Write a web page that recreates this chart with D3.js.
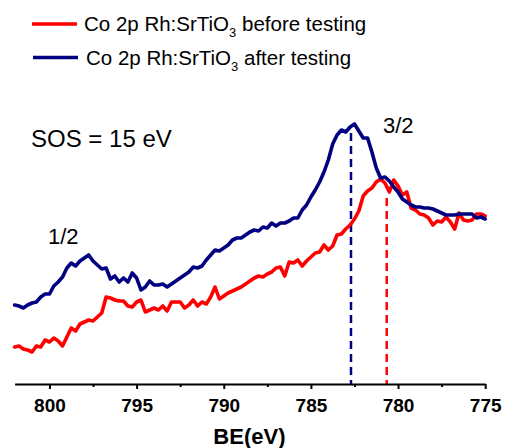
<!DOCTYPE html>
<html>
<head>
<meta charset="utf-8">
<script src="https://cdn.jsdelivr.net/npm/d3@7"></script>
<style>
  html, body { margin: 0; padding: 0; background: #fff; }
  svg { display: block; font-family: "Liberation Sans", Arial, sans-serif; }
</style>
</head>
<body>
<svg id="chart" width="505" height="448"></svg>
<script>
// Binding energy grid (eV), 0.25 eV steps
const bindingEnergy = [802,801.75,801.5,801.25,801,800.75,800.5,800.25,800,799.75,799.5,799.25,799,798.75,798.5,798.25,798,797.75,797.5,797.25,797,796.75,796.5,796.25,796,795.75,795.5,795.25,795,794.75,794.5,794.25,794,793.75,793.5,793.25,793,792.75,792.5,792.25,792,791.75,791.5,791.25,791,790.75,790.5,790.25,790,789.75,789.5,789.25,789,788.75,788.5,788.25,788,787.75,787.5,787.25,787,786.75,786.5,786.25,786,785.75,785.5,785.25,785,784.75,784.5,784.25,784,783.75,783.5,783.25,783,782.75,782.5,782.25,782,781.75,781.5,781.25,781,780.75,780.5,780.25,780,779.75,779.5,779.25,779,778.75,778.5,778.25,778,777.75,777.5,777.25,777,776.75,776.5,776.25,776,775.75,775.5,775.25,775];

// Co 2p intensity (a.u.), before testing
const beforeTesting = [53,54,51,50,48,54,53,60,58,62,59,54,63,72,69,76,78,80,79,83,87,103,102,100,99,99,94,93,98,100,88,90,92,90,94,89,98,98,98,92,95,100,94,98,96,103,113,101,104,107,109,111,113,116,119,122,124,123,126,128,132,133,124,138,137,140,134,139,143,147,148,155,150,154,165,166,171,175,181,189,204,209,212,218,221,217,208,220,214,205,208,192,190,186,185,182,175,179,178,183,178,171,187,180,179,180,186,186,184];

// Co 2p intensity (a.u.), after testing
const afterTesting = [95,94,92,95,97,98,103,106,106,114,118,123,132,137,134,139,142,145,139,135,131,132,121,124,118,122,118,127,122,110,113,119,115,115,116,113,116,119,122,125,128,133,132,134,140,145,150,149,152,155,160,162,162,165,168,170,169,173,172,177,174,177,177,179,182,182,190,195,203,210,218,228,240,256,265,270,268,273,276,269,262,262,248,232,222,223,219,213,208,201,198,195,193,193,192,192,191,189,187,185,185,185,186,186,186,186,182,183,181];

const seriesNames = ["before testing", "after testing"];
const seriesColors = ["#ff0000", "#000080"];

const majorTicks = [800, 795, 790, 785, 780, 775];
const minorTicks = [797.5, 792.5, 787.5, 782.5, 777.5];

// Co 2p3/2 peak positions marked with dashed guides
const peakEnergy = [780.65, 782.7];
const peakTop = [202, 267];

const svg = d3.select("#chart");

const x = d3.scaleLinear().domain([802, 775]).range([14.6, 485.2]);
const y = d3.scaleLinear().domain([40, 290]).range([360, 110]);
const axisY = 384;

const series = [beforeTesting, afterTesting];

// Peak guides
peakEnergy.forEach((e, i) => {
  svg.append("line")
    .attr("x1", x(e)).attr("x2", x(e))
    .attr("y1", y(peakTop[i])).attr("y2", axisY)
    .attr("stroke", seriesColors[i])
    .attr("stroke-width", 2.5)
    .attr("stroke-dasharray", "8,5");
});

// Spectra
const line = d3.line()
  .x((d, i) => x(bindingEnergy[i]))
  .y(d => y(d));

series.forEach((s, i) => {
  svg.append("path")
    .datum(s)
    .attr("fill", "none")
    .attr("stroke", seriesColors[i])
    .attr("stroke-width", 3.6)
    .attr("stroke-linejoin", "round")
    .attr("stroke-linecap", "round")
    .attr("d", line);
});

// Bottom axis
const gAxis = svg.append("g").attr("transform", `translate(0,${axisY})`);
gAxis.call(d3.axisBottom(x).tickValues(majorTicks).tickSize(5).tickSizeOuter(0).tickPadding(10).tickFormat(d3.format("d")));
gAxis.select(".domain").attr("stroke", "#000").attr("stroke-width", 2);
gAxis.selectAll(".tick line").attr("stroke", "#000").attr("stroke-width", 2);
gAxis.selectAll(".tick text")
  .attr("font-family", "'Liberation Sans', Arial, sans-serif")
  .attr("font-size", 19).attr("font-weight", "bold").attr("fill", "#000");

const gMinor = svg.append("g").attr("transform", `translate(0,${axisY})`);
gMinor.call(d3.axisBottom(x).tickValues(minorTicks).tickSize(3).tickSizeOuter(0).tickFormat(""));
gMinor.select(".domain").remove();
gMinor.selectAll(".tick line").attr("stroke", "#000").attr("stroke-width", 2);

svg.append("text")
  .attr("x", (x(802) + x(775)) / 2 - 0.5).attr("y", 444)
  .attr("text-anchor", "middle")
  .attr("font-size", 22).attr("font-weight", "bold")
  .text("BE(eV)");

// Legend
seriesNames.forEach((name, i) => {
  const ly = 24 + i * 33.5;
  svg.append("line")
    .attr("x1", 32 + i).attr("x2", 77 + i)
    .attr("y1", ly).attr("y2", ly)
    .attr("stroke", seriesColors[i]).attr("stroke-width", 3.5);
  const t = svg.append("text")
    .attr("x", 84 + i * 2).attr("y", ly + 7)
    .attr("font-size", 20.5).attr("fill", "#000");
  t.append("tspan").text("Co 2p Rh:SrTiO");
  t.append("tspan").attr("font-size", 13).attr("dy", 6).text("3");
  t.append("tspan").attr("dy", -6).text(" " + name);
});

// Annotations
svg.append("text").attr("x", 31).attr("y", 147).attr("font-size", 24).text("SOS = 15 eV");
svg.append("text").attr("x", 48).attr("y", 244).attr("font-size", 22).text("1/2");
svg.append("text").attr("x", 383).attr("y", 133).attr("font-size", 22).text("3/2");
</script>
</body>
</html>
